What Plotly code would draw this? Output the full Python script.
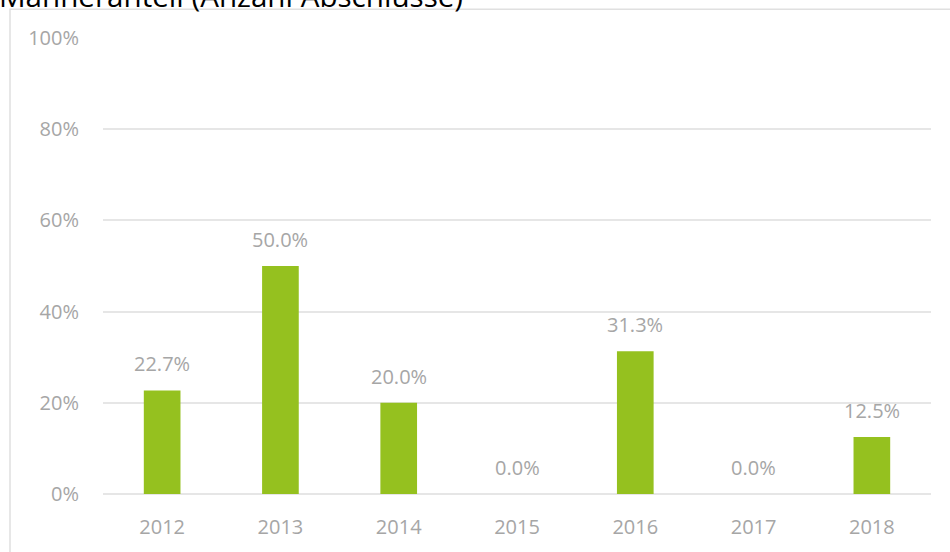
import plotly.graph_objects as go

years = ["2012", "2013", "2014", "2015", "2016", "2017", "2018"]
share = [0.227, 0.500, 0.200, 0.0, 0.313, 0.0, 0.125]
labels = ["22.7%", "50.0%", "20.0%", "0.0%", "31.3%", "0.0%", "12.5%"]
title = "Männeranteil (Anzahl Abschlüsse)"

W, H = 950, 552
L, R, T, B = 103, 19, 38, 54
pw, ph = W - L - R, H - T - B

def px(x):
    return (x - L) / pw

def py(y):
    return (H - B - y) / ph

FONT = "Open Sans"
GRAY = "#A6A6A6"

fig = go.Figure(go.Bar(
    x=years, y=share,
    marker=dict(color="#95C11F", line=dict(width=0)),
    width=0.31,
))

# category index positions on the x axis for the value labels
annotations = [dict(x=i, y=v, xref="x", yref="y", text=lb, showarrow=False,
                    xanchor="center", yanchor="bottom", yshift=12, borderpad=0,
                    font=dict(size=20, color=GRAY, family=FONT))
               for i, (v, lb) in enumerate(zip(share, labels))]
annotations.append(dict(text=title, xref="paper", yref="paper", x=px(-2), y=py(17),
                        xanchor="left", yanchor="bottom", showarrow=False, borderpad=0,
                        font=dict(size=29.6, color="#000000", family=FONT)))

fig.update_layout(
    width=W, height=H, margin=dict(l=L, r=R, t=T, b=B),
    paper_bgcolor="white", plot_bgcolor="white",
    showlegend=False,
    font=dict(family=FONT, color=GRAY, size=20),
    xaxis=dict(type="category", range=[-0.5, len(years) - 0.5], showgrid=False,
               showline=False, ticks="", ticklabelstandoff=19,
               tickfont=dict(size=20, color=GRAY)),
    yaxis=dict(range=[0, 1], dtick=0.2, tickformat=".0%", showgrid=True,
               gridcolor="#E6E6E6", gridwidth=1.5, zeroline=True, zerolinecolor="#E6E6E6",
               zerolinewidth=1.5, ticks="", ticklabelstandoff=23,
               tickfont=dict(size=20, color=GRAY)),
    shapes=[dict(type="rect", xref="paper", yref="paper",
                 x0=px(10), x1=px(W + 20), y0=py(H + 20), y1=py(9),
                 line=dict(color="#E0E0E0", width=1.5), layer="below")],
    annotations=annotations,
)

fig.write_html("out.html", config={"displayModeBar": False},
               post_script="document.body.style.margin='0';document.body.style.overflow='hidden';")
